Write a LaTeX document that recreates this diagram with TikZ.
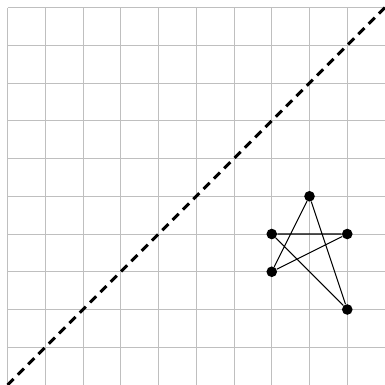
\documentclass[tikz,border=0pt]{standalone}
\usepackage{tikz}
\usetikzlibrary{positioning,calc}
\tikzset{
    gridline/.style={line width=0.6pt, gray!50},
    diagline/.style={line width=2.2pt, black, dash pattern=on 6.5pt off 4.5pt},
    vertex/.style={circle, fill=black, inner sep=0pt, minimum size=8pt},
    edge/.style={line width=0.8pt, black},
}
\begin{document}
\begin{tikzpicture}
    \useasboundingbox (-0.2,0) rectangle (10,10.2);
    % Grid
    \draw[gridline] (0,0) grid (10,10);

    % Diagonal
    \coordinate (d0) at (0,0);
    \coordinate (d1) at (10,10);
    \draw[diagline] (d0) -- (d1);

    % Star vertices
    \foreach \name/\pos in {top/{(8,5)}, upl/{(7,4)}, upr/{(9,4)}, lowl/{(7,3)}, lowr/{(9,2)}} {
        \node[vertex] (\name) at \pos {};
    }

    % Star edges
    \draw[edge] (top) -- (lowr) -- (upl) -- (upr) -- (lowl) -- (top);
\end{tikzpicture}
\end{document}
